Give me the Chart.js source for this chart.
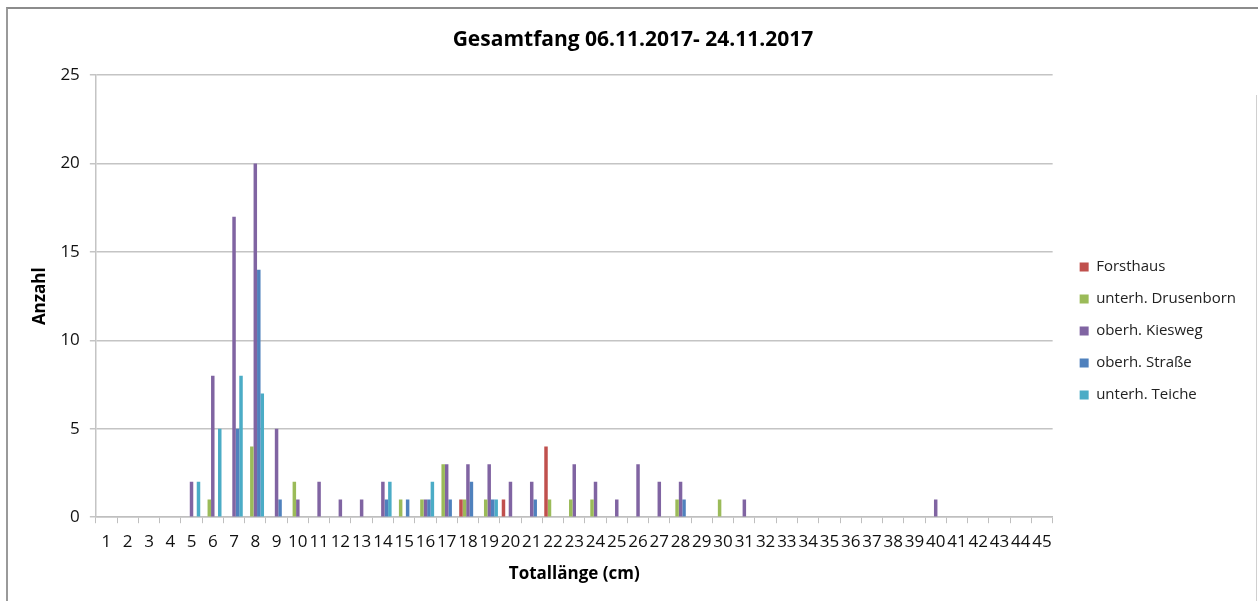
<!DOCTYPE html>
<html>
<head>
<meta charset="utf-8">
<script src="https://cdn.jsdelivr.net/npm/chart.js@4.4.0/dist/chart.umd.min.js"></script>
<style>
  html, body { margin: 0; padding: 0; background: #ffffff; }
  #wrap { position: relative; width: 1258px; height: 601px; overflow: hidden; }
  #c { position: absolute; left: 0; top: 0; }
  #frameTL { position: absolute; left: 6px; top: 7px; width: 1260px; height: 600px;
             border-left: 2px solid #9a9a9a; border-top: 2px solid #8c8c8c; box-sizing: border-box; }
  #frameR { position: absolute; left: 1256px; top: 95px; width: 1px; height: 510px; background: #d0d0d0; }
</style>
</head>
<body>
<div id="wrap">
  <canvas id="c" width="1258" height="601"></canvas>
  <div id="frameTL"></div>
  <div id="frameR"></div>
</div>
<script>
// ---- data ----
const categories = ["1","2","3","4","5","6","7","8","9","10","11","12","13","14","15","16","17","18","19","20","21","22","23","24","25","26","27","28","29","30","31","32","33","34","35","36","37","38","39","40","41","42","43","44","45"];

const forsthaus = [
  0,0,0,0,0,0,0,0,0,0,
  0,0,0,0,0,0,0,1,0,1,
  0,4,0,0,0,0,0,0,0,0,
  0,0,0,0,0,0,0,0,0,0,
  0,0,0,0,0
];
const drusenborn = [
  0,0,0,0,0,1,0,4,0,2,
  0,0,0,0,1,1,3,1,1,0,
  0,1,1,1,0,0,0,1,0,1,
  0,0,0,0,0,0,0,0,0,0,
  0,0,0,0,0
];
const kiesweg = [
  0,0,0,0,2,8,17,20,5,1,
  2,1,1,2,0,1,3,3,3,2,
  2,0,3,2,1,3,2,2,0,0,
  1,0,0,0,0,0,0,0,0,1,
  0,0,0,0,0
];
const strasse = [
  0,0,0,0,0,0,5,14,1,0,
  0,0,0,1,1,1,1,2,1,0,
  1,0,0,0,0,0,0,1,0,0,
  0,0,0,0,0,0,0,0,0,0,
  0,0,0,0,0
];
const teiche = [
  0,0,0,0,2,5,8,7,0,0,
  0,0,0,2,0,2,0,0,1,0,
  0,0,0,0,0,0,0,0,0,0,
  0,0,0,0,0,0,0,0,0,0,
  0,0,0,0,0
];

const seriesNames = ["Forsthaus", "unterh. Drusenborn", "oberh. Kiesweg", "oberh. Straße", "unterh. Teiche"];
const seriesColors = ["#C0504D", "#9BBB59", "#8064A2", "#4F81BD", "#4BACC6"];
const seriesValues = [forsthaus, drusenborn, kiesweg, strasse, teiche];

const yTicks = [0, 5, 10, 15, 20, 25];
const chartTitle = "Gesamtfang 06.11.2017- 24.11.2017";
const xTitle = "Totallänge (cm)";
const yTitle = "Anzahl";

const FONT = "'Open Sans', 'Liberation Sans', sans-serif";

const datasets = seriesNames.map((name, i) => ({
  label: name,
  data: seriesValues[i],
  backgroundColor: seriesColors[i],
  borderWidth: 0,
  categoryPercentage: 0.82,
  barPercentage: 1.0
}));

// Moves the legend block (not the plot) to where the reference has it.
const legendShift = {
  id: 'legendShift',
  afterLayout(chart) {
    const lg = chart.legend;
    if (!lg) return;
    const dx = 10, dy = 39;
    lg.left += dx; lg.right += dx;
    lg.top += dy; lg.bottom += dy;
  }
};

new Chart(document.getElementById('c'), {
  type: 'bar',
  data: { labels: categories, datasets: datasets },
  plugins: [legendShift],
  options: {
    responsive: false,
    animation: false,
    devicePixelRatio: 1,
    layout: { padding: { left: 30, right: 22, top: 0, bottom: 17 } },
    plugins: {
      title: {
        display: true,
        text: chartTitle,
        color: '#000000',
        font: { family: FONT, size: 21, weight: 'bold' },
        padding: { top: 27, bottom: 23 }
      },
      legend: {
        display: true,
        position: 'right',
        align: 'center',
        labels: {
          color: '#222222',
          font: { family: FONT, size: 15 },
          boxWidth: 9,
          boxHeight: 9,
          padding: 17
        }
      },
      tooltip: { enabled: false }
    },
    scales: {
      x: {
        grid: {
          display: true,
          drawOnChartArea: false,
          drawTicks: true,
          tickLength: 6,
          color: '#bfbfbf',
          offset: true
        },
        border: { display: true, color: '#bfbfbf', width: 1.5 },
        ticks: {
          color: '#111111',
          font: { family: FONT, size: 17 },
          autoSkip: false,
          maxRotation: 0,
          minRotation: 0,
          padding: 9
        },
        title: {
          display: true,
          text: xTitle,
          color: '#000000',
          font: { family: FONT, size: 17, weight: 'bold' },
          padding: { top: 2, bottom: 0 }
        }
      },
      y: {
        min: 0,
        max: 25,
        afterBuildTicks: (axis) => { axis.ticks = yTicks.map(v => ({ value: v })); },
        grid: {
          color: '#c4c4c4',
          lineWidth: 1.5,
          drawTicks: true,
          tickLength: 6
        },
        border: { display: true, color: '#c4c4c4', width: 1.5 },
        ticks: {
          color: '#111111',
          font: { family: FONT, size: 17 },
          padding: 10
        },
        title: {
          display: true,
          text: yTitle,
          color: '#000000',
          font: { family: FONT, size: 17, weight: 'bold' },
          padding: { top: 0, bottom: 0 }
        }
      }
    }
  }
});
</script>
</body>
</html>
